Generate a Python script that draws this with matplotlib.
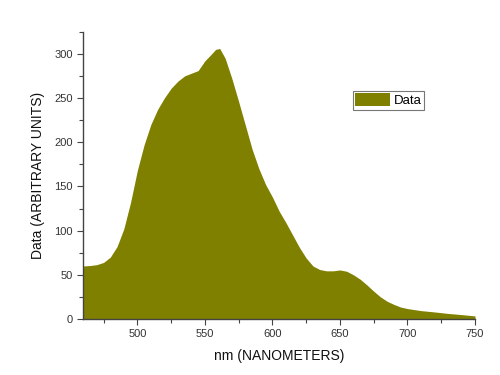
import numpy as np
import matplotlib.pyplot as plt
from matplotlib.ticker import MultipleLocator

# wavelength (nm) and intensity
nm = [460, 465, 470, 475, 480, 485, 490, 495, 500, 505, 510, 515, 520, 525,
      530, 535, 540, 545, 550, 555, 558, 561, 565, 570, 575, 580, 585, 590,
      595, 600, 605, 610, 615, 620, 625, 630, 635, 640, 645, 650, 655, 660,
      665, 670, 675, 680, 685, 690, 695, 700, 710, 720, 730, 740, 750]
counts = [60, 60.5, 61.5, 64, 70, 82, 102, 132, 168, 197, 220, 237, 250, 261,
          269, 275, 278, 281, 292, 300, 305, 306, 295, 272, 246, 219, 192, 170,
          152, 138, 122, 109, 95, 81, 69, 60, 56, 54.5, 54.5, 55.5, 54, 50,
          45, 38.5, 31.5, 25, 20, 16.5, 13.5, 11.8, 9.5, 8, 6.3, 5, 3.5]

plt.rcParams['font.family'] = ['Liberation Sans', 'DejaVu Sans']

fig = plt.figure(figsize=(5, 3.75), dpi=100)
ax = fig.add_axes([0.1666, 0.1493, 0.7834, 0.7662])

olive = '#808000'
ax.fill_between(nm, 0, counts, color=olive, linewidth=0, label='Data')

ax.set_xlim(460, 750)
ax.set_ylim(0, 325)
ax.xaxis.set_major_locator(MultipleLocator(50))
ax.xaxis.set_minor_locator(MultipleLocator(25))
ax.yaxis.set_major_locator(MultipleLocator(50))
ax.yaxis.set_minor_locator(MultipleLocator(25))

for s in ['top', 'right']:
    ax.spines[s].set_visible(False)
for s in ['left', 'bottom']:
    ax.spines[s].set_color('#444444')
    ax.spines[s].set_linewidth(1.0)

ax.tick_params(which='major', direction='out', length=4, width=0.8,
               color='#444444', labelsize=8, labelcolor='#333333')
ax.tick_params(which='minor', direction='out', length=3, width=0.8, color='#444444')

ax.set_xlabel('nm (NANOMETERS)', fontsize=10, color='#111111', labelpad=7)
ax.set_ylabel('Data (ARBITRARY UNITS)', fontsize=10, color='#111111', labelpad=7)

leg = ax.legend(loc='upper left', bbox_to_anchor=(0.688, 0.795), fontsize=9.5,
                frameon=True, fancybox=False, handlelength=2.6, handleheight=1.1,
                borderpad=0.2, handletextpad=0.3, borderaxespad=0)
leg.get_frame().set_edgecolor('#555555')
leg.get_frame().set_linewidth(0.8)

fig.savefig('out.png', dpi=100)
